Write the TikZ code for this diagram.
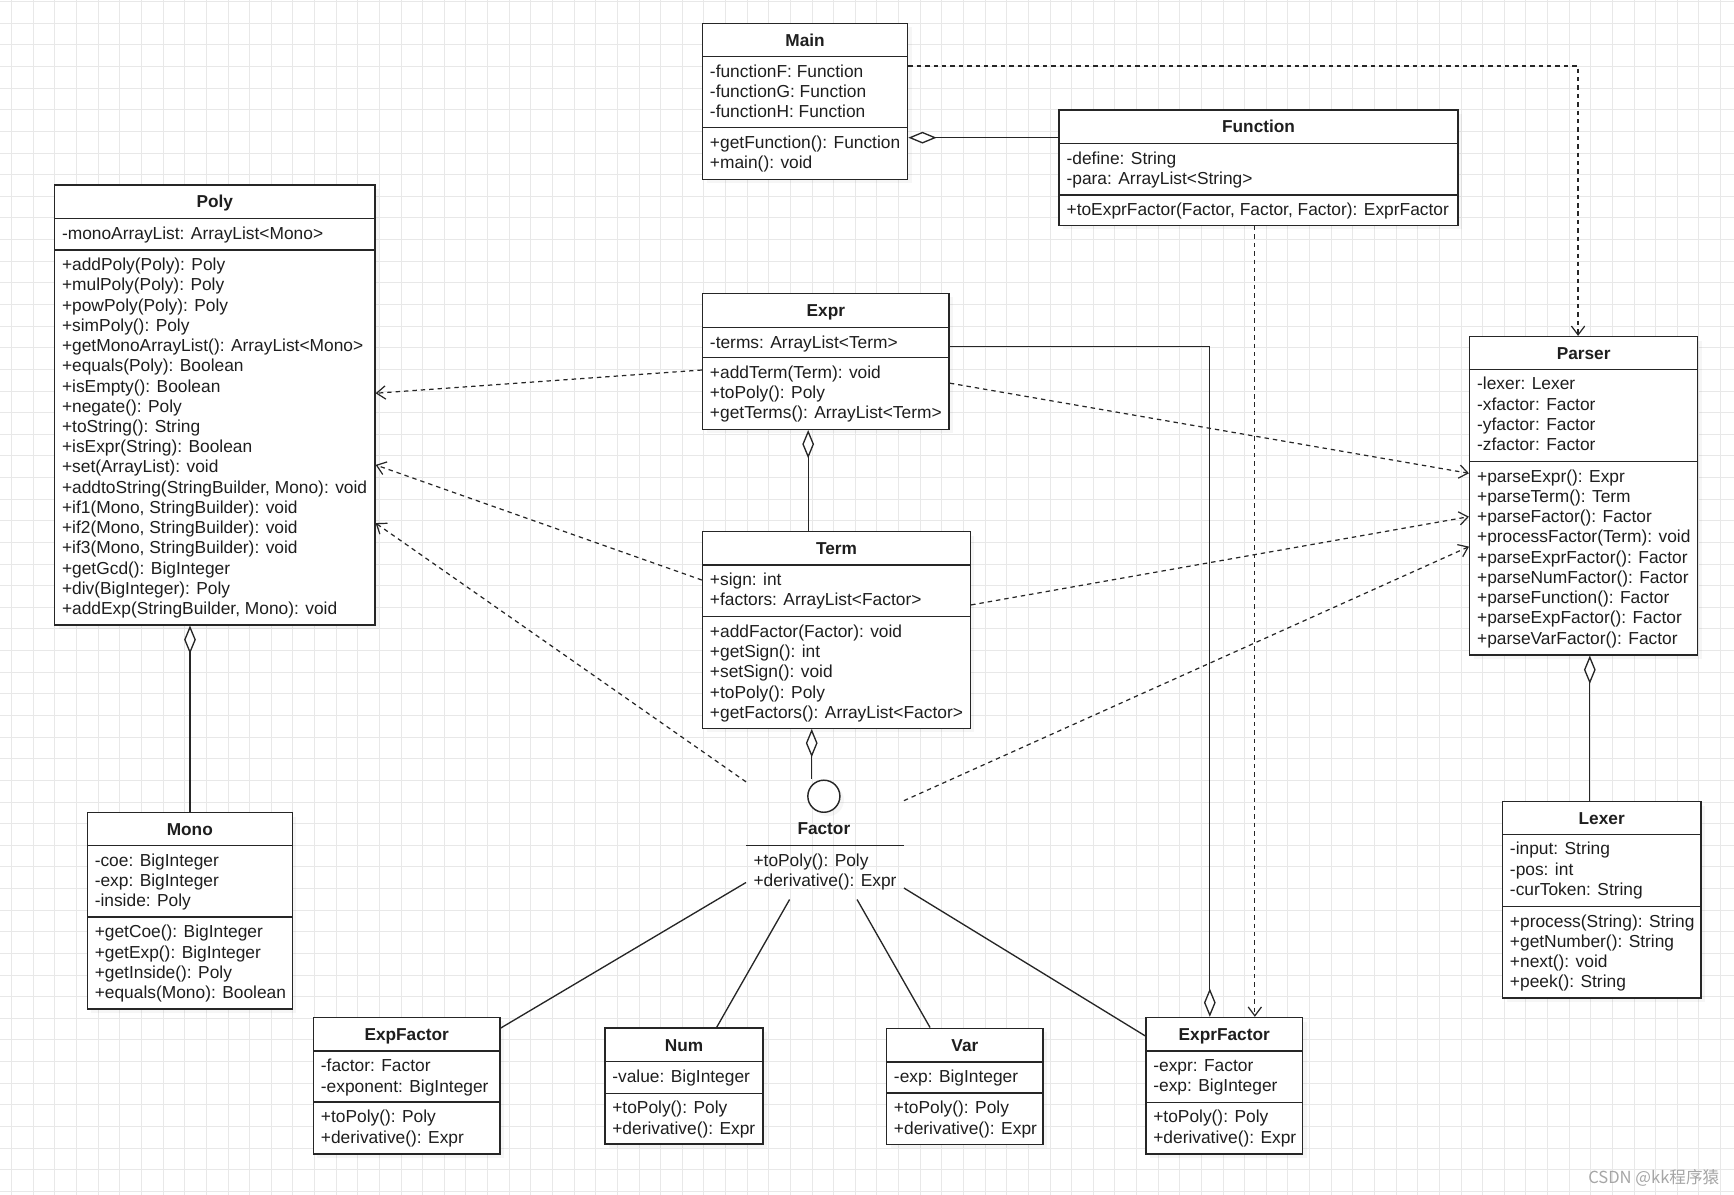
\documentclass[tikz,border=0pt]{standalone}
\usepackage{fontspec}
\setmainfont{Liberation Sans}
\newfontfamily\cjkfont{Noto Sans CJK SC}
\usetikzlibrary{arrows.meta,fit,shadows}

\definecolor{gridc}{HTML}{E8E8E8}
\definecolor{inkc}{HTML}{1E1E1E}
\definecolor{linec}{HTML}{262626}

\tikzset{
  classbox/.style={draw=linec, line width=0.65pt, fill=white, inner sep=0pt,
    drop shadow={shadow xshift=1.8pt, shadow yshift=-1.8pt, opacity=0.07}},
  sepline/.style={draw=linec, line width=0.65pt},
  titletext/.style={font=\fontsize{7.8}{9.15}\selectfont\bfseries, text=inkc, inner sep=0pt, anchor=base},
  membertext/.style={font=\fontsize{7.85}{9.15}\selectfont, text=inkc, inner sep=0pt, anchor=base west},
  depline/.style={draw=linec, line width=0.55pt, dash pattern=on 2pt off 1.8pt,
    -{Straight Barb[length=4pt,width=6pt]}},
  aggline/.style={draw=linec, line width=0.6pt},
  plainline/.style={draw=linec, line width=0.6pt},
}

% #1 name #2 x1 #3 y1 #4 x2 #5 y2 #6 title separator y #7 member separator y #8 title
\newcommand{\umlclass}[8]{%
  \node[classbox, fit={(#2,#3)(#4,#5)}] (#1) {};
  \draw[sepline] (#2,#6) -- (#4,#6);
  \draw[sepline] (#2,#7) -- (#4,#7);
  \node[titletext] (#1-title) at ({(#2+#4)/2},{(#3+#6)/2+5.6}) {#8};
}
% #1 name prefix #2 x #3 first baseline y #4 list of rows
\newcommand{\umlrows}[4]{%
  \foreach \t [count=\i] in {#4} {
    \node[membertext] (#1\i) at ({#2},{#3+(\i-1)*18.3}) {\t};
  }
}

\begin{document}
\begin{tikzpicture}[x=0.5pt, y=-0.5pt]
\useasboundingbox[fill=white] (0,0) rectangle (1568,1080.6);

% grid
\foreach \g in {0,...,79} {
  \draw[gridc, line width=0.45pt] ({10.6+\g*19.56},0) -- ({10.6+\g*19.56},1080.6);
}
\foreach \g in {0,...,55} {
  \draw[gridc, line width=0.45pt] (0,{1.5+\g*19.56}) -- (1568,{1.5+\g*19.56});
}

% ---------- classes ----------
\umlclass{main}{635.3}{21.1}{820.7}{162.1}{51.2}{115.4}{Main}
\umlrows{main-a}{641.6}{69.9}{-functionF: Function,-functionG: Function,-functionH: Function}
\umlrows{main-m}{641.6}{134.1}{+getFunction(): Function,+main(): void}

\umlclass{function}{957.8}{99.5}{1318.3}{203.7}{129.6}{176.3}{Function}
\umlrows{function-a}{964.1}{148.3}{-define: String,-para: ArrayList<String>}
\umlrows{function-m}{964.1}{195.0}{{+toExprFactor(Factor, Factor, Factor): ExprFactor}}

\umlclass{poly}{49.4}{167.3}{339}{565}{197.4}{226}{Poly}
\umlrows{poly-a}{55.7}{216.3}{-monoArrayList: ArrayList<Mono>}
\umlrows{poly-m}{55.7}{244.7}{+addPoly(Poly): Poly,+mulPoly(Poly): Poly,+powPoly(Poly): Poly,+simPoly(): Poly,+getMonoArrayList(): ArrayList<Mono>,+equals(Poly): Boolean,+isEmpty(): Boolean,+negate(): Poly,+toString(): String,+isExpr(String): Boolean,+set(ArrayList): void,{+addtoString(StringBuilder, Mono): void},{+if1(Mono, StringBuilder): void},{+if2(Mono, StringBuilder): void},{+if3(Mono, StringBuilder): void},+getGcd(): BigInteger,+div(BigInteger): Poly,{+addExp(StringBuilder, Mono): void}}

\umlclass{expr}{635.3}{265.2}{858.3}{388.2}{296}{323.4}{Expr}
\umlrows{expr-a}{641.6}{314.7}{-terms: ArrayList<Term>}
\umlrows{expr-m}{641.6}{342.1}{+addTerm(Term): void,+toPoly(): Poly,+getTerms(): ArrayList<Term>}

\umlclass{term}{635.3}{480.7}{877.5}{658.5}{510.8}{557.6}{Term}
\umlrows{term-a}{641.6}{529.5}{+sign: int,+factors: ArrayList<Factor>}
\umlrows{term-m}{641.6}{576.3}{+addFactor(Factor): void,+getSign(): int,+setSign(): void,+toPoly(): Poly,+getFactors(): ArrayList<Factor>}

\umlclass{parser}{1329}{304.4}{1535}{592.2}{333.9}{417.4}{Parser}
\umlrows{parser-a}{1335.3}{352.6}{-lexer: Lexer,-xfactor: Factor,-yfactor: Factor,-zfactor: Factor}
\umlrows{parser-m}{1335.3}{436.1}{+parseExpr(): Expr,+parseTerm(): Term,+parseFactor(): Factor,+processFactor(Term): void,+parseExprFactor(): Factor,+parseNumFactor(): Factor,+parseFunction(): Factor,+parseExpFactor(): Factor,+parseVarFactor(): Factor}

\umlclass{lexer}{1358.7}{724.9}{1538}{902.6}{754.4}{819.8}{Lexer}
\umlrows{lexer-a}{1365}{773.1}{-input: String,-pos: int,-curToken: String}
\umlrows{lexer-m}{1365}{838.5}{+process(String): String,+getNumber(): String,+next(): void,+peek(): String}

\umlclass{mono}{79}{734.8}{264.3}{912.3}{764.6}{829.4}{Mono}
\umlrows{mono-a}{85.3}{783.3}{-coe: BigInteger,-exp: BigInteger,-inside: Poly}
\umlrows{mono-m}{85.3}{848.1}{+getCoe(): BigInteger,+getExp(): BigInteger,+getInside(): Poly,+equals(Mono): Boolean}

\umlclass{expfactor}{283.5}{920}{452}{1043.5}{950.5}{996.6}{ExpFactor}
\umlrows{expfactor-a}{289.8}{969.2}{-factor: Factor,-exponent: BigInteger}
\umlrows{expfactor-m}{289.8}{1015.3}{+toPoly(): Poly,+derivative(): Expr}

\umlclass{num}{547}{929.7}{690}{1034.6}{960}{988.6}{Num}
\umlrows{num-a}{553.3}{978.7}{-value: BigInteger}
\umlrows{num-m}{553.3}{1007.3}{+toPoly(): Poly,+derivative(): Expr}

\umlclass{var}{801.7}{929.8}{943.3}{1034.7}{960.2}{988.5}{Var}
\umlrows{var-a}{808}{978.9}{-exp: BigInteger}
\umlrows{var-m}{808}{1007.2}{+toPoly(): Poly,+derivative(): Expr}

\umlclass{exprfactor}{1036.2}{920.1}{1177.9}{1043.4}{950.3}{996.7}{ExprFactor}
\umlrows{exprfactor-a}{1042.5}{969}{-expr: Factor,-exp: BigInteger}
\umlrows{exprfactor-m}{1042.5}{1015.4}{+toPoly(): Poly,+derivative(): Expr}

% ---------- Factor interface (lollipop) ----------
\node[fit={(675,705)(817,813)}, inner sep=0pt] (factorbox) {};
\node[circle, draw=linec, line width=0.65pt, fill=white, minimum size=14.5pt, inner sep=0pt,
  drop shadow={shadow xshift=1.8pt, shadow yshift=-1.8pt, opacity=0.07}] (factor) at (745,720) {};
\node[titletext] (factor-title) at (745,755) {Factor};
\coordinate (factor-l) at (675,764.6);
\coordinate (factor-r) at (817,764.6);
\draw[sepline] (factor-l) -- (factor-r);
\umlrows{factor-m}{681}{783.6}{+toPoly(): Poly,+derivative(): Expr}

% ---------- connectors ----------
\draw[depline] (main.east |- 0,59.7) -| (1427,0 |- parser.north);
\draw[aggline, {Diamond[fill=white,length=12.8pt,width=5.3pt]}-] (main.east |- 0,124.5) -- (function.west |- 0,124.5);
\draw[depline] (1134.7,0 |- function.south) -- (1134.7,0 |- exprfactor.north);
\draw[aggline, -{Diamond[fill=white,length=12.8pt,width=5.3pt]}] (expr.east |- 0,313.5) -| (1094,0 |- exprfactor.north);
\draw[depline] (expr.west |- 0,334.6) -- (poly.east |- 0,355.6);
\draw[depline] (expr.east |- 0,346.5) -- (parser.west |- 0,428);
\draw[aggline, {Diamond[fill=white,length=12.8pt,width=5.3pt]}-] (730.8,0 |- expr.south) -- (730.8,0 |- term.north);
\draw[depline] (term.west |- 0,524.5) -- (poly.east |- 0,420.4);
\draw[depline] (term.east |- 0,547) -- (parser.west |- 0,467.2);
\draw[aggline, {Diamond[fill=white,length=12.8pt,width=5.3pt]}-] (734,0 |- term.south) -- (734,0 |- factor.north);
\draw[depline] (factorbox.west |- 0,707) -- (poly.east |- 0,473);
\draw[depline] (factorbox.east |- 0,724) -- (parser.west |- 0,494.3);
\draw[aggline, {Diamond[fill=white,length=12.8pt,width=5.3pt]}-] (171.8,0 |- poly.south) -- (171.8,0 |- mono.north);
\draw[aggline, {Diamond[fill=white,length=12.8pt,width=5.3pt]}-] (1437.6,0 |- parser.south) -- (1437.6,0 |- lexer.north);
\draw[plainline] (factorbox.west |- 0,798) -- (expfactor.east |- 0,929.7);
\draw[plainline] (714,0 |- factorbox.south) -- (648,0 |- num.north);
\draw[plainline] (775,0 |- factorbox.south) -- (841,0 |- var.north);
\draw[plainline] (factorbox.east |- 0,803) -- (exprfactor.west |- 0,936.7);

% watermark
\node[font=\cjkfont\fontsize{7.5}{8.5}\selectfont, text=gray!70, inner sep=0pt, anchor=base east] (wm) at (1555,1070) {CSDN @kk程序猿};
\end{tikzpicture}
\end{document}
